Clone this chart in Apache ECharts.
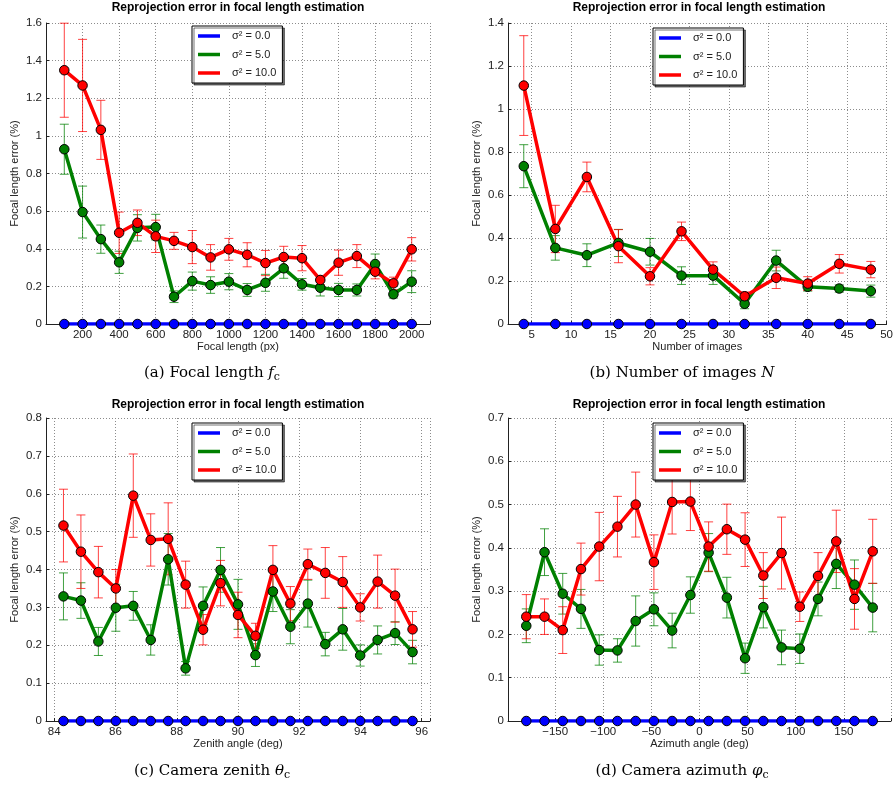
<!DOCTYPE html>
<html>
<head>
<meta charset="utf-8">
<script src="https://cdn.jsdelivr.net/npm/echarts@6/dist/echarts.min.js"></script>
<style>
  html, body { margin: 0; padding: 0; background: #fff; }
  #chart { width: 896px; height: 786px; }
</style>
</head>
<body>
<div id="chart"></div>
<script>
(function () {
  "use strict";

  var FONT = "Liberation Sans, Arial, sans-serif";
  var SERIF = "DejaVu Serif, Liberation Serif, serif";
  var NAMES = ["σ² = 0.0", "σ² = 5.0", "σ² = 10.0"];
  var BLUE = "#0000ff", GREEN = "#008000", RED = "#ff0000";
  var TITLE = "Reprojection error in focal length estimation";
  var YNAME = "Focal length error (%)";

  // --- (a) focal length ---
  var xA = [100, 200, 300, 400, 500, 600, 700, 800, 900, 1000, 1100, 1200, 1300, 1400, 1500, 1600, 1700, 1800, 1900, 2000];
  var a0 = [0, 0, 0, 0, 0, 0, 0, 0, 0, 0, 0, 0, 0, 0, 0, 0, 0, 0, 0, 0];
  var a5 = [0.929, 0.595, 0.451, 0.328, 0.511, 0.515, 0.145, 0.228, 0.207, 0.225, 0.181, 0.219, 0.296, 0.211, 0.193, 0.181, 0.181, 0.319, 0.158, 0.225];
  var a5e = [0.133, 0.138, 0.075, 0.059, 0.07, 0.068, 0.031, 0.048, 0.044, 0.043, 0.034, 0.045, 0.053, 0.031, 0.044, 0.035, 0.032, 0.053, 0.02, 0.058];
  var a10 = [1.349, 1.268, 1.032, 0.485, 0.538, 0.466, 0.442, 0.409, 0.354, 0.397, 0.368, 0.324, 0.356, 0.350, 0.234, 0.326, 0.361, 0.278, 0.216, 0.397];
  var a10e = [0.25, 0.245, 0.157, 0.11, 0.068, 0.086, 0.045, 0.088, 0.068, 0.058, 0.064, 0.067, 0.057, 0.067, 0.024, 0.067, 0.061, 0.038, 0.033, 0.062];
  var ticksA = [200, 400, 600, 800, 1000, 1200, 1400, 1600, 1800, 2000];

  // --- (b) number of images ---
  var xB = [4, 8, 12, 16, 20, 24, 28, 32, 36, 40, 44, 48];
  var b0 = [0, 0, 0, 0, 0, 0, 0, 0, 0, 0, 0, 0];
  var b5 = [0.734, 0.354, 0.320, 0.377, 0.336, 0.225, 0.225, 0.094, 0.295, 0.173, 0.165, 0.153];
  var b5e = [0.1, 0.057, 0.053, 0.063, 0.062, 0.041, 0.041, 0.023, 0.048, 0.02, 0.017, 0.028];
  var b10 = [1.109, 0.442, 0.684, 0.362, 0.222, 0.431, 0.253, 0.129, 0.215, 0.188, 0.280, 0.253];
  var b10e = [0.232, 0.11, 0.069, 0.077, 0.04, 0.043, 0.036, 0.02, 0.05, 0.032, 0.043, 0.038];
  var ticksB = [5, 10, 15, 20, 25, 30, 35, 40, 45, 50];

  // --- (c) zenith ---
  var xC = [84.3, 84.87, 85.44, 86.01, 86.58, 87.15, 87.72, 88.29, 88.86, 89.43, 90.0, 90.57, 91.14, 91.71, 92.28, 92.85, 93.42, 93.99, 94.56, 95.13, 95.7];
  var c0 = [0, 0, 0, 0, 0, 0, 0, 0, 0, 0, 0, 0, 0, 0, 0, 0, 0, 0, 0, 0, 0];
  var c5 = [0.329, 0.318, 0.210, 0.299, 0.304, 0.214, 0.427, 0.139, 0.304, 0.399, 0.308, 0.174, 0.342, 0.249, 0.310, 0.203, 0.242, 0.173, 0.214, 0.232, 0.182];
  var c5e = [0.062, 0.047, 0.037, 0.062, 0.038, 0.04, 0.068, 0.018, 0.05, 0.059, 0.066, 0.03, 0.053, 0.045, 0.062, 0.031, 0.055, 0.028, 0.037, 0.03, 0.031];
  var c10 = [0.516, 0.447, 0.393, 0.350, 0.595, 0.478, 0.481, 0.360, 0.241, 0.364, 0.280, 0.225, 0.399, 0.310, 0.414, 0.391, 0.367, 0.300, 0.368, 0.331, 0.242];
  var c10e = [0.096, 0.097, 0.068, 0.05, 0.11, 0.069, 0.095, 0.062, 0.04, 0.06, 0.06, 0.033, 0.064, 0.045, 0.04, 0.067, 0.067, 0.036, 0.07, 0.07, 0.047];
  var ticksC = [84, 86, 88, 90, 92, 94, 96];

  // --- (d) azimuth ---
  var xD = [-180, -161.05, -142.11, -123.16, -104.21, -85.26, -66.32, -47.37, -28.42, -9.47, 9.47, 28.42, 47.37, 66.32, 85.26, 104.21, 123.16, 142.11, 161.05, 180];
  var d0 = [0, 0, 0, 0, 0, 0, 0, 0, 0, 0, 0, 0, 0, 0, 0, 0, 0, 0, 0, 0];
  var d5 = [0.220, 0.390, 0.294, 0.259, 0.164, 0.163, 0.231, 0.258, 0.209, 0.291, 0.389, 0.285, 0.145, 0.263, 0.170, 0.167, 0.282, 0.363, 0.315, 0.262];
  var d5e = [0.039, 0.054, 0.047, 0.045, 0.035, 0.027, 0.058, 0.038, 0.04, 0.042, 0.044, 0.047, 0.035, 0.048, 0.04, 0.034, 0.039, 0.057, 0.057, 0.056];
  var d10 = [0.241, 0.241, 0.210, 0.351, 0.403, 0.449, 0.500, 0.367, 0.506, 0.507, 0.403, 0.443, 0.419, 0.336, 0.388, 0.264, 0.335, 0.415, 0.282, 0.392];
  var d10e = [0.051, 0.041, 0.054, 0.06, 0.079, 0.07, 0.075, 0.063, 0.074, 0.067, 0.057, 0.058, 0.062, 0.053, 0.083, 0.034, 0.054, 0.072, 0.07, 0.074];
  var ticksD = [-150, -100, -50, 0, 50, 100, 150];

  function fmt(v) {
    return v < 0 ? "\u2212" + String(-v) : String(v);
  }

  function pairs(xs, ys) {
    return xs.map(function (x, i) { return [x, ys[i]]; });
  }

  function errData(xs, ys, es) {
    return xs.map(function (x, i) { return [x, ys[i] - es[i], ys[i] + es[i]]; });
  }

  function lineSeries(idx, name, color, xs, ys) {
    return {
      type: "line", name: name, xAxisIndex: idx, yAxisIndex: idx,
      data: pairs(xs, ys),
      symbol: "circle", symbolSize: 9.5,
      lineStyle: { color: color, width: 3.5 },
      itemStyle: { color: color, borderColor: "#000", borderWidth: 1 },
      emphasis: { disabled: true },
      z: 3
    };
  }

  function errSeries(idx, color, xs, ys, es) {
    return {
      type: "custom", name: "err", xAxisIndex: idx, yAxisIndex: idx,
      data: errData(xs, ys, es),
      encode: { x: 0, y: [1, 2] },
      z: 3,
      renderItem: function (params, api) {
        var x = api.value(0);
        var top = api.coord([x, api.value(2)]);
        var bot = api.coord([x, api.value(1)]);
        var w = 4.5;
        var st = { stroke: color, lineWidth: 1 };
        return {
          type: "group",
          children: [
            { type: "line", shape: { x1: top[0], y1: top[1], x2: bot[0], y2: bot[1] }, style: st },
            { type: "line", shape: { x1: top[0] - w, y1: top[1], x2: top[0] + w, y2: top[1] }, style: st },
            { type: "line", shape: { x1: bot[0] - w, y1: bot[1], x2: bot[0] + w, y2: bot[1] }, style: st }
          ]
        };
      }
    };
  }

  function panelSeries(idx, xs, s0, s5, e5, s10, e10) {
    return [
      lineSeries(idx, NAMES[0], BLUE, xs, s0),
      errSeries(idx, "rgba(0,128,0,0.75)", xs, s5, e5),
      lineSeries(idx, NAMES[1], GREEN, xs, s5),
      errSeries(idx, "rgba(255,0,0,0.75)", xs, s10, e10),
      lineSeries(idx, NAMES[2], RED, xs, s10)
    ];
  }

  var gridLine = { show: true, lineStyle: { color: "#8c8c8c", type: [1, 2], width: 1 } };

  function xAxisCfg(idx, min, max, ticks, name) {
    return {
      type: "value", gridIndex: idx, min: min, max: max,
      name: name, nameLocation: "middle", nameGap: 17,
      nameTextStyle: { fontSize: 11, color: "#222", fontFamily: FONT },
      axisLine: { onZero: false, lineStyle: { color: "#222", width: 1 } },
      axisTick: { inside: true, length: 3, customValues: ticks.concat([max]), lineStyle: { color: "#222" } },
      axisLabel: { customValues: ticks, margin: 5, fontSize: 11.5, color: "#222", fontFamily: FONT, formatter: fmt },
      splitLine: gridLine
    };
  }

  function yAxisCfg(idx, max, step) {
    return {
      type: "value", gridIndex: idx, min: 0, max: max, interval: step,
      name: YNAME, nameLocation: "middle", nameGap: 26,
      nameTextStyle: { fontSize: 11, color: "#222", fontFamily: FONT },
      axisLine: { show: true, onZero: false, lineStyle: { color: "#222", width: 1 } },
      axisTick: { show: true, inside: true, length: 3, lineStyle: { color: "#222" } },
      axisLabel: { margin: 4, fontSize: 11.5, color: "#222", fontFamily: FONT },
      splitLine: gridLine
    };
  }

  function legendCfg(left, top) {
    return {
      left: left, top: top, orient: "vertical", data: NAMES,
      icon: "rect", itemWidth: 22, itemHeight: 3.5, itemGap: 4.5,
      padding: [3, 6, 3, 6],
      backgroundColor: "#fff", borderColor: "#000", borderWidth: 1,
      shadowColor: "rgba(0,0,0,0.55)", shadowOffsetX: 2, shadowOffsetY: 2, shadowBlur: 0,
      itemStyle: { borderWidth: 0 },
      selectedMode: false,
      textStyle: { fontSize: 11, color: "#222", fontFamily: FONT, lineHeight: 14, padding: [0, 0, 0, 7] }
    };
  }

  function titleText(x, y) {
    return {
      type: "text", x: x, y: y, silent: true,
      style: { text: TITLE, fill: "#000", fontSize: 12, fontWeight: "bold", fontFamily: FONT, align: "center", verticalAlign: "middle" }
    };
  }

  var capRich = {
    i: { fontSize: 15, fontStyle: "italic", fontFamily: SERIF, fill: "#000" },
    s: { fontSize: 11, fontFamily: SERIF, fill: "#000", padding: [8, 0, 0, 0] }
  };

  function caption(x, y, text) {
    return {
      type: "text", x: x, y: y, silent: true,
      style: { text: text, rich: capRich, fill: "#000", fontSize: 15, fontFamily: SERIF, align: "center", verticalAlign: "middle" }
    };
  }

  var chart = echarts.init(document.getElementById("chart"), null, { renderer: "canvas" });

  chart.setOption({
    backgroundColor: "#fff",
    animation: false,
    textStyle: { fontFamily: FONT },
    grid: [
      { left: 46, top: 23, width: 384, height: 301 },
      { left: 508, top: 23, width: 382, height: 301 },
      { left: 46, top: 418, width: 384, height: 303 },
      { left: 508, top: 418, width: 383, height: 303 }
    ],
    xAxis: [
      xAxisCfg(0, 0, 2100, ticksA, "Focal length (px)"),
      xAxisCfg(1, 2, 50, ticksB, "Number of images"),
      xAxisCfg(2, 83.73, 96.27, ticksC, "Zenith angle (deg)"),
      xAxisCfg(3, -199, 199, ticksD, "Azimuth angle (deg)")
    ],
    yAxis: [
      yAxisCfg(0, 1.6, 0.2),
      yAxisCfg(1, 1.4, 0.2),
      yAxisCfg(2, 0.8, 0.1),
      yAxisCfg(3, 0.7, 0.1)
    ],
    legend: [
      legendCfg(192, 26),
      legendCfg(653, 28),
      legendCfg(192, 423),
      legendCfg(653, 423)
    ],
    graphic: [
      titleText(238, 8),
      titleText(699, 8),
      titleText(238, 405),
      titleText(699, 405),
      caption(212, 373, "(a) Focal length {i|f}{s|c}"),
      caption(682, 373, "(b) Number of images {i|N}"),
      caption(212, 771, "(c) Camera zenith {i|θ}{s|c}"),
      caption(682, 771, "(d) Camera azimuth {i|φ}{s|c}")
    ],
    series: [].concat(
      panelSeries(0, xA, a0, a5, a5e, a10, a10e),
      panelSeries(1, xB, b0, b5, b5e, b10, b10e),
      panelSeries(2, xC, c0, c5, c5e, c10, c10e),
      panelSeries(3, xD, d0, d5, d5e, d10, d10e)
    )
  });
})();
</script>
</body>
</html>
